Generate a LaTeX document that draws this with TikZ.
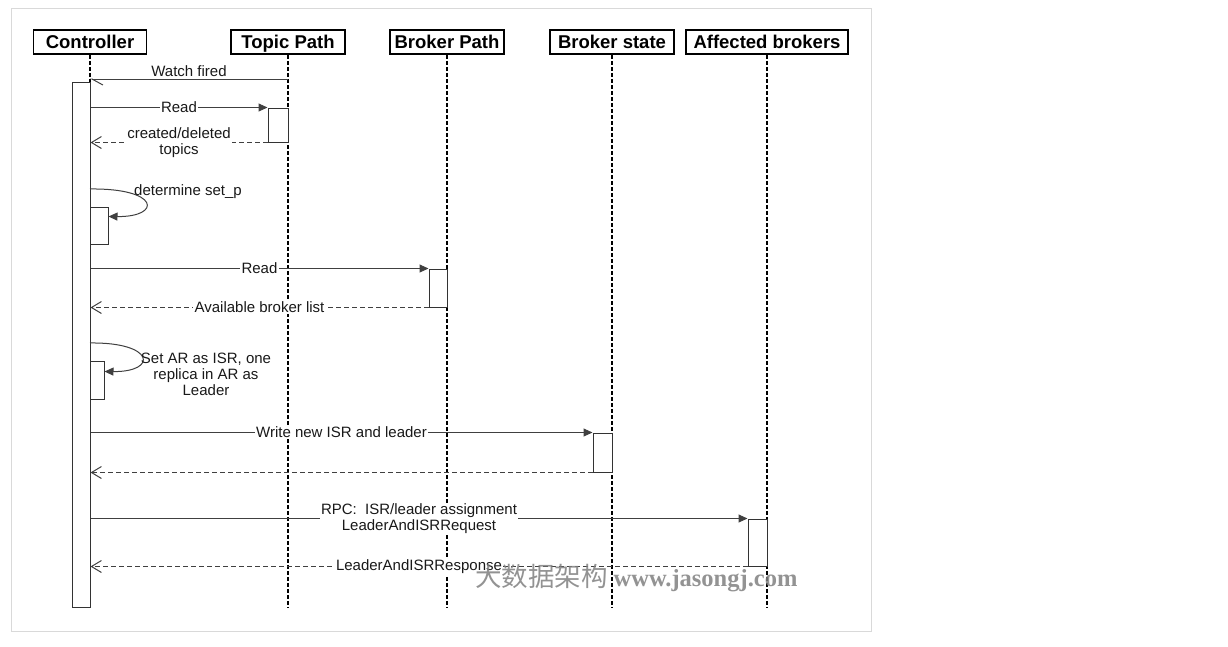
\documentclass[tikz,border=0pt]{standalone}
\usepackage{fontspec}
\setmainfont{Liberation Sans}
\newfontfamily\cjkfont{Noto Sans CJK SC}
\newfontfamily\wmfont{Liberation Serif}
\usetikzlibrary{arrows.meta}
\begin{document}
\begin{tikzpicture}[x=1pt,y=-1pt,
  hdr/.style={draw=black, line width=1.6pt, minimum height=24pt, inner sep=0pt, text height=14pt, text depth=2pt, font=\fontsize{18.5}{20}\selectfont\bfseries},
  life/.style={line width=1.5pt, dash pattern=on 4pt off 2pt},
  act/.style={draw=black!80, line width=1pt, fill=white, inner sep=0pt},
  msg/.style={draw=black!75, line width=1pt, -{Triangle[length=9pt,width=8pt]}},
  ret/.style={draw=black!75, line width=1pt, dash pattern=on 5pt off 3pt, -{Straight Barb[length=10pt,width=12pt]}},
  lbl/.style={fill=white, inner xsep=1.5pt, inner ysep=1pt, text=black!90, font=\fontsize{15}{16}\selectfont, align=center},
]
\useasboundingbox (0,0) rectangle (1228,646);
\draw[black!15, line width=1pt] (11,8) rectangle (871,631);

% headers
\node[hdr, minimum width=113pt] (ctrl) at (90,42) {Controller};
\node[hdr, minimum width=114pt] (topic) at (288,42) {Topic Path};
\node[hdr, minimum width=114pt] (bpath) at (447,42) {Broker Path};
\node[hdr, minimum width=124pt] (bstate) at (612,42) {Broker state};
\node[hdr, minimum width=162pt] (aff) at (767,42) {Affected brokers};

% lifelines
\coordinate (ctrlE) at (90,607);
\coordinate (topicE) at (288,607);
\coordinate (bpathE) at (447,607);
\coordinate (bstateE) at (612,607);
\coordinate (affE) at (767,607);
\draw[life] (ctrl.south) -- (ctrlE);
\draw[life] (topic.south) -- (topicE);
\draw[life] (bpath.south) -- (bpathE);
\draw[life] (bstate.south) -- (bstateE);
\draw[life] (aff.south) -- (affE);

% activation bars
\node[act, minimum width=18pt, minimum height=525pt] (actC) at (81,344.5) {};
\node[act, minimum width=20pt, minimum height=34pt] (actT) at (278,125) {};
\node[act, minimum width=18pt, minimum height=37pt] (actS1) at (99,225.5) {};
\node[act, minimum width=18pt, minimum height=38pt] (actB) at (438,288) {};
\node[act, minimum width=14pt, minimum height=38pt] (actS2) at (97,380) {};
\node[act, minimum width=19pt, minimum height=39pt] (actBS) at (602.5,452.5) {};
\node[act, minimum width=19pt, minimum height=47pt] (actA) at (757.5,542.5) {};

% watch fired
\coordinate (wf1) at (288,79);
\coordinate (wf2) at (90,79);
\draw[draw=black!75, line width=1pt, -{Straight Barb[harpoon,length=11pt,width=12pt]}] (wf1) -- node[lbl, fill=none, above, yshift=1pt] {Watch fired} (wf2);

% read topics
\draw[msg] (actC.east |- actT.north) -- node[lbl] {Read} (actT.north west);
\draw[ret] (actT.south west) -- node[lbl] {created/deleted\\topics} (actC.east |- actT.south);

% determine set_p
\coordinate (s1) at (90,189);
\draw[msg] (s1) .. controls (160,188) and (162,217) .. ([yshift=-10pt]actS1.north east);
\node[lbl, fill=none] (ls1) at (188,192) {determine set\_p};

% read brokers
\draw[msg] (actC.east |- actB.north) -- node[lbl] {Read} (actB.north west);
\draw[ret] (actB.south west) -- node[lbl] {Available broker list} (actC.east |- actB.south);

% set AR as ISR
\coordinate (s2) at (90,343);
\draw[msg] (s2) .. controls (155,342) and (158,372) .. ([yshift=-11pt]actS2.north east);
\node[lbl, fill=none] (ls2) at (206,374) {Set AR as ISR, one\\replica in AR as\\Leader};

% write
\draw[msg] (actC.east |- actBS.north) -- node[lbl] {Write new ISR and leader} (actBS.north west);
\draw[ret] (actBS.south west) -- (actC.east |- actBS.south);

% RPC
\draw[msg] (actC.east |- actA.north) -- node[lbl] {RPC:\ \ ISR/leader assignment\\LeaderAndISRRequest} (actA.north west);
\draw[ret] (actA.south west) -- node[lbl] {LeaderAndISRResponse} (actC.east |- actA.south);

% watermark
\node[anchor=base west, text=black!50, text opacity=0.85, inner sep=0pt] (wm) at (475,586)
  {{\cjkfont\fontsize{26.5}{26}\selectfont 大数据架构}\hspace{6pt}{\wmfont\bfseries\fontsize{24.5}{24}\selectfont www.jasongj.com}};
\end{tikzpicture}
\end{document}
